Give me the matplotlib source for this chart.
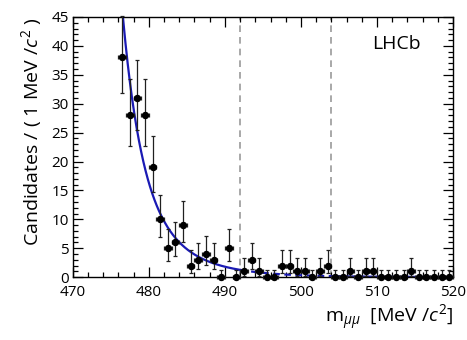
import math

import matplotlib

matplotlib.use("Agg")

import matplotlib.pyplot as plt  # noqa: E402
import numpy as np  # noqa: E402
from matplotlib.ticker import MultipleLocator  # noqa: E402

plt.rcParams["font.family"] = ["Open Sans", "DejaVu Sans"]
plt.rcParams["mathtext.fontset"] = "custom"
plt.rcParams["mathtext.rm"] = "Open Sans"
plt.rcParams["mathtext.it"] = "Open Sans:italic"

# Bin centres (1 MeV bins) and candidate counts
mass = [476.5, 477.5, 478.5, 479.5, 480.5, 481.5, 482.5, 483.5, 484.5, 485.5,
        486.5, 487.5, 488.5, 489.5, 490.5, 491.5, 492.5, 493.5, 494.5, 495.5,
        496.5, 497.5, 498.5, 499.5, 500.5, 501.5, 502.5, 503.5, 504.5, 505.5,
        506.5, 507.5, 508.5, 509.5, 510.5, 511.5, 512.5, 513.5, 514.5, 515.5,
        516.5, 517.5, 518.5, 519.5]
counts = [38, 28, 31, 28, 19, 10, 5, 6, 9, 2,
          3, 4, 3, 0, 5, 0, 1, 3, 1, 0,
          0, 2, 2, 1, 1, 0, 1, 2, 0, 0,
          1, 0, 1, 1, 0, 0, 0, 0, 1, 0,
          0, 0, 0, 0]

# Background model: sum of two exponentials (amplitudes, slopes in MeV)
bkg_amp = [37.3, 17.1]
bkg_tau = [2.5, 6.0]
bkg_ref = 476.0

# Signal window edges
window = [492.0, 504.0]

BLUE = "#1a1ab4"


def poisson_interval(n, cl=0.6827):
    """Central Poisson interval; n=0 uses the one-sided upper limit."""
    alpha = (1.0 - cl) / 2.0

    def cdf(k, mu):
        return sum(math.exp(-mu + i * math.log(mu) - math.lgamma(i + 1)) for i in range(k + 1))

    def solve(f, lo, hi):
        for _ in range(80):
            mid = 0.5 * (lo + hi)
            if f(mid) > 0:
                lo = mid
            else:
                hi = mid
        return 0.5 * (lo + hi)

    if n == 0:
        return 0.0, -math.log(1.0 - cl)
    hi = solve(lambda mu: cdf(n, mu) - alpha, n, n + 10 * math.sqrt(n) + 10)
    lo = solve(lambda mu: alpha - (1.0 - cdf(n - 1, mu)), 1e-9, n)
    return lo, hi


def background(m):
    return sum(a * np.exp(-(m - bkg_ref) / t) for a, t in zip(bkg_amp, bkg_tau))


x = np.array(mass)
y = np.array(counts, dtype=float)
intervals = [poisson_interval(n) for n in counts]
yerr = np.vstack([[n - lo for n, (lo, hi) in zip(counts, intervals)],
                  [hi - n for n, (lo, hi) in zip(counts, intervals)]])

fig = plt.figure(figsize=(4.67, 3.40), dpi=100)
ax = fig.add_axes([0.156, 0.185, 0.814, 0.765])

for edge in window:
    ax.axvline(edge, color="#9a9a9a", linestyle=(0, (4, 3)), linewidth=1.2, zorder=1)

m_left = np.linspace(470, window[0], 300)
m_mid = np.linspace(window[0], window[1], 200)
m_right = np.linspace(window[1], 520, 200)
ax.plot(m_left, background(m_left), color=BLUE, linewidth=1.6, zorder=2)
ax.plot(m_mid, background(m_mid), color=BLUE, linewidth=1.6, linestyle=(0, (3, 2)), zorder=2)
ax.plot(m_right, background(m_right), color=BLUE, linewidth=1.6, zorder=2)

ax.errorbar(x, y, yerr=yerr, xerr=0.5, fmt="o", color="black", ecolor="#202020",
            markersize=4.3, elinewidth=0.9, capsize=1.5, capthick=0.9, zorder=3,
            clip_on=False)

ax.set_xlim(470, 520)
ax.set_ylim(0, 45)
ax.xaxis.set_major_locator(MultipleLocator(10))
ax.xaxis.set_minor_locator(MultipleLocator(2))
ax.yaxis.set_major_locator(MultipleLocator(5))
ax.yaxis.set_minor_locator(MultipleLocator(1))
ax.tick_params(which="both", direction="in", top=True, right=True, width=0.9,
               labelsize=11, colors="black")
ax.tick_params(axis="x", which="major", length=7, pad=6)
ax.tick_params(axis="x", which="minor", length=3.5)
ax.tick_params(axis="y", which="major", length=7, pad=3)
ax.tick_params(axis="y", which="minor", length=3.5)
for spine in ax.spines.values():
    spine.set_linewidth(1.0)

ax.set_ylabel(r"Candidates / ( 1 MeV /$c^2$ )", fontsize=14, loc="top", labelpad=5)
ax.set_xlabel(r"m$_{\mu\mu}$  [MeV /$c^2$]", fontsize=14, loc="right", labelpad=2)
ax.text(0.915, 0.895, "LHCb", transform=ax.transAxes, ha="right", va="center",
        fontsize=14)

fig.savefig("out.png", dpi=100)
